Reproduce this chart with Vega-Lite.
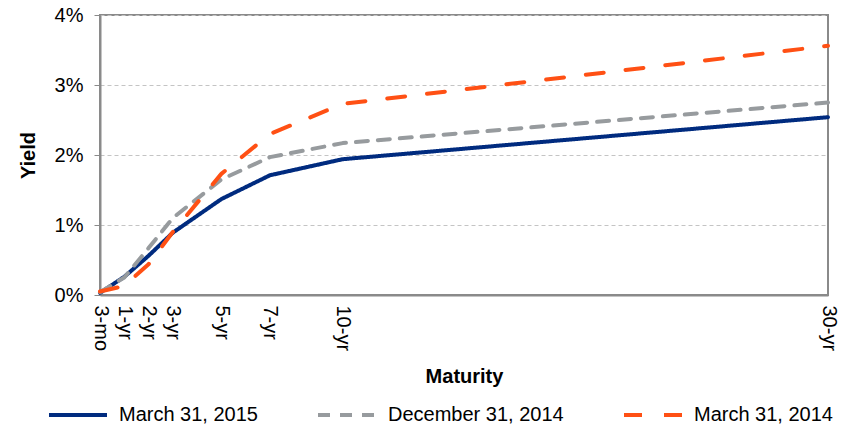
{
  "$schema": "https://vega.github.io/schema/vega-lite/v6.json",
  "autosize": "none",
  "width": 728,
  "height": 280,
  "padding": {"left": 100, "top": 15, "right": 29, "bottom": 133},
  "background": "white",
  "title": {
    "text": "Treasury Yield Curve",
    "font": "Liberation Sans",
    "fontSize": 20,
    "fontWeight": "bold",
    "color": "black",
    "anchor": "middle",
    "baseline": "alphabetic",
    "offset": 13,
    "dx": -20
  },
  "config": {
    "font": "Liberation Sans",
    "view": {"stroke": "#8a8a8a", "strokeWidth": 2},
    "axis": {
      "labelFont": "Liberation Sans",
      "labelFontSize": 20,
      "labelColor": "black",
      "titleFont": "Liberation Sans",
      "titleFontSize": 20,
      "titleFontWeight": "bold",
      "titleColor": "black",
      "domainColor": "#8a8a8a",
      "domainWidth": 2,
      "tickColor": "#8a8a8a",
      "gridColor": "#c4c4c4",
      "gridDash": [4, 3],
      "gridWidth": 1
    }
  },
  "data": {
    "values": [
      {"series": "March 31, 2015", "mat": 0, "yield": 0.0003},
      {"series": "March 31, 2015", "mat": 1, "yield": 0.0026},
      {"series": "March 31, 2015", "mat": 2, "yield": 0.0056},
      {"series": "March 31, 2015", "mat": 3, "yield": 0.0089},
      {"series": "March 31, 2015", "mat": 5, "yield": 0.0137},
      {"series": "March 31, 2015", "mat": 7, "yield": 0.0171},
      {"series": "March 31, 2015", "mat": 10, "yield": 0.0194},
      {"series": "March 31, 2015", "mat": 30, "yield": 0.0254},
      {"series": "December 31, 2014", "mat": 0, "yield": 0.0004},
      {"series": "December 31, 2014", "mat": 1, "yield": 0.0025},
      {"series": "December 31, 2014", "mat": 2, "yield": 0.0067},
      {"series": "December 31, 2014", "mat": 3, "yield": 0.0110},
      {"series": "December 31, 2014", "mat": 5, "yield": 0.0165},
      {"series": "December 31, 2014", "mat": 7, "yield": 0.0197},
      {"series": "December 31, 2014", "mat": 10, "yield": 0.0217},
      {"series": "December 31, 2014", "mat": 30, "yield": 0.0275},
      {"series": "March 31, 2014", "mat": 0, "yield": 0.0005},
      {"series": "March 31, 2014", "mat": 1, "yield": 0.0013},
      {"series": "March 31, 2014", "mat": 2, "yield": 0.0044},
      {"series": "March 31, 2014", "mat": 3, "yield": 0.0090},
      {"series": "March 31, 2014", "mat": 5, "yield": 0.0173},
      {"series": "March 31, 2014", "mat": 7, "yield": 0.0230},
      {"series": "March 31, 2014", "mat": 10, "yield": 0.0273},
      {"series": "March 31, 2014", "mat": 30, "yield": 0.0356}
    ]
  },
  "mark": {"type": "line", "strokeWidth": 4, "interpolate": "linear", "strokeCap": "round", "strokeJoin": "round", "clip": false},
  "encoding": {
    "x": {
      "field": "mat",
      "type": "quantitative",
      "scale": {"domain": [0, 30], "nice": false, "zero": true},
      "axis": {
        "title": "Maturity",
        "values": [0, 1, 2, 3, 5, 7, 10, 30],
        "labelExpr": "datum.value == 0 ? '3-mo' : datum.value + '-yr'",
        "labelAngle": 90,
        "labelAlign": "left",
        "labelBaseline": "middle",
        "labelPadding": 10,
        "ticks": false,
        "grid": false,
        "labelOverlap": false,
        "titlePadding": 16
      }
    },
    "y": {
      "field": "yield",
      "type": "quantitative",
      "scale": {"domain": [0, 0.04], "nice": false},
      "axis": {
        "title": "Yield",
        "format": ".0%",
        "values": [0, 0.01, 0.02, 0.03, 0.04],
        "tickSize": 6,
        "labelPadding": 11,
        "titlePadding": 16,
        "domain": true
      }
    },
    "color": {
      "field": "series",
      "type": "nominal",
      "sort": ["March 31, 2015", "December 31, 2014", "March 31, 2014"],
      "scale": {
        "domain": ["March 31, 2015", "December 31, 2014", "March 31, 2014"],
        "range": ["#002B7F", "#979B9E", "#FF5014"]
      },
      "legend": {
        "title": null,
        "orient": "none",
        "direction": "horizontal",
        "legendX": -53,
        "legendY": 369,
        "symbolType": "stroke",
        "symbolSize": 3364,
        "symbolStrokeWidth": 4,
        "labelFont": "Liberation Sans",
        "labelFontSize": 20,
        "labelColor": "black",
        "labelLimit": 300,
        "columnPadding": 52,
        "labelOffset": 10
      }
    },
    "strokeDash": {
      "field": "series",
      "type": "nominal",
      "sort": ["March 31, 2015", "December 31, 2014", "March 31, 2014"],
      "scale": {
        "domain": ["March 31, 2015", "December 31, 2014", "March 31, 2014"],
        "range": [[1, 0], [12, 10], [18, 22]]
      },
      "legend": null
    }
  }
}
